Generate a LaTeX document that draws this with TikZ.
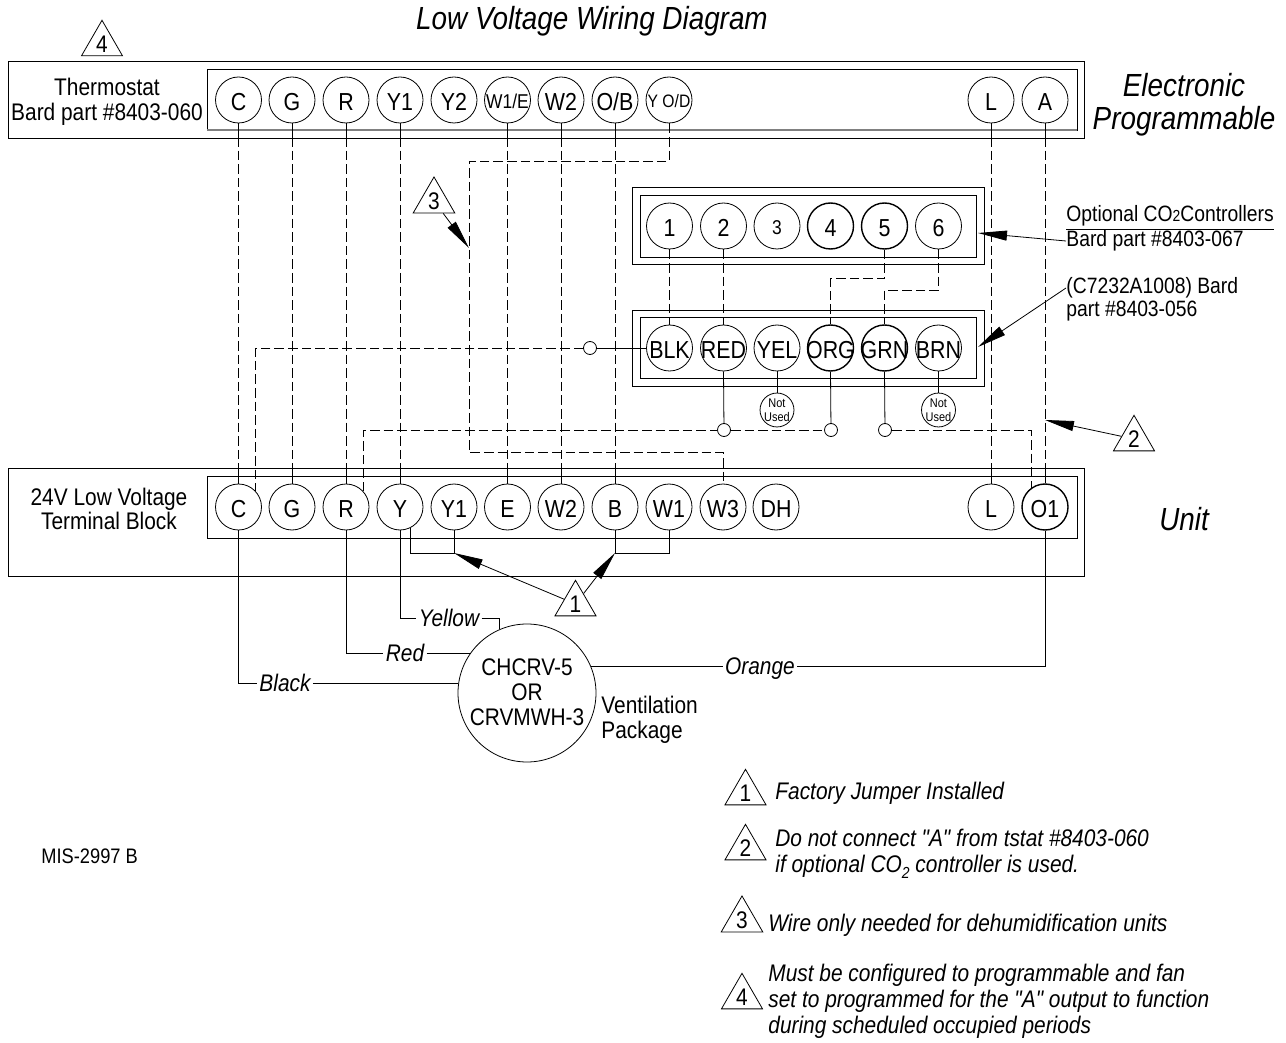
\documentclass[tikz,border=0pt]{standalone}
\usepackage{fontspec}
\setmainfont[FakeStretch=0.87,Ligatures=TeXOff]{Liberation Sans}
\usetikzlibrary{arrows.meta,shapes.geometric}
\newcommand{\clab}[1]{\makebox[0pt]{#1}}
\tikzset{
  term/.style={circle,draw,minimum size=23pt,inner sep=0pt,text height=10.1pt,text depth=0pt,font=\fontsize{12.3}{14}\selectfont},
  heavy/.style={line width=.7pt},
  flagnum/.style={regular polygon,regular polygon sides=3,draw,minimum size=23.7pt,inner sep=0pt,font=\fontsize{12}{14}\selectfont},
  tapdot/.style={circle,draw,minimum size=6.5pt,inner sep=0pt},
  notused/.style={circle,draw,minimum size=16pt,inner sep=0pt,align=center,font=\fontsize{6.3}{6.8}\selectfont},
  txt/.style={inner sep=0pt,align=center,font=\fontsize{12}{12.4}\selectfont},
  sidetxt/.style={inner sep=0pt,anchor=west,font=\fontsize{11.1}{12}\selectfont},
  big/.style={inner sep=0pt,font=\fontsize{16}{16.5}\selectfont\itshape,align=center},
  note/.style={inner sep=0pt,anchor=west,align=left,font=\fontsize{12}{13}\selectfont\itshape},
  wirelbl/.style={inner sep=1pt,text height=8.6pt,text depth=0pt,font=\fontsize{12}{14}\selectfont\itshape},
  wiredash/.style={dash pattern=on 4.8pt off 2pt},
  pointer/.style={-{Triangle[length=14.5pt,width=5pt]}}
}
\begin{document}
\begin{tikzpicture}[x=.5pt,y=-.5pt,line width=.4pt]
\useasboundingbox (0,0) rectangle (1286,1043);
%boxes
\draw (8,61) rectangle (1084,138);
\draw (207,69) rectangle (1077,130);
\draw[gray,line width=.8pt] (207,130) -- (1077,130);
\draw (8,468) rectangle (1084,576);
\draw (207,476) rectangle (1077,538);
\draw (632,187) rectangle (984,264);
\draw (640,195) rectangle (976,257);
\draw (632,310) rectangle (984,386);
\draw (640,317) rectangle (976,378);
%thermostat
\foreach \nm/\xx/\lab in {C/238.5/C,G/292/G,R/346/R,Yone/400/Y1,Ytwo/454/Y2,Wtwo/561/W2,OB/615/{O/B},L/991/L,A/1045/A}
  \node[term] (t\nm) at (\xx,100) {\clab{\lab}};
\node[term,text height=8.7pt,font=\fontsize{10}{12}\selectfont] (tWE) at (507.5,100) {\clab{W1/E}};
\node[term,text height=7.9pt,font=\fontsize{9}{11}\selectfont] (tYOD) at (669,100) {\clab{Y O/D}};
%unit
\foreach \nm/\xx/\lab in {C/238.5/C,G/292/G,R/346/R,Y/400/Y,Yone/454/Y1,E/507.5/E,Wtwo/561/W2,B/615/B,Wone/669/W1,Wthree/723/W3,DH/776/DH,L/991/L}
  \node[term] (b\nm) at (\xx,507) {\clab{\lab}};
\node[term,heavy] (bO) at (1045,507) {\clab{O1}};
%co2 controller
\foreach \nm/\xx/\lab in {1/669.5/1,2/723.5/2,6/938.5/6}
  \node[term] (co\nm) at (\xx,226) {\clab{\lab}};
\foreach \nm/\xx/\lab in {4/830.5/4,5/884.5/5}
  \node[term,heavy] (co\nm) at (\xx,226) {\clab{\lab}};
\node[term,text height=8.7pt,font=\fontsize{10}{12}\selectfont] (co3) at (777,226) {\clab{3}};
%wall sensor
\foreach \nm/\xx in {BLK/669.5,RED/723.5,YEL/777,BRN/938.5}
  \node[term] (w\nm) at (\xx,348) {\clab{\nm}};
\foreach \nm/\xx in {ORG/830.5,GRN/884.5}
  \node[term,heavy] (w\nm) at (\xx,348) {\clab{\nm}};
\node[notused] (nuA) at (777,410) {Not\\Used};
\node[notused] (nuB) at (938.5,410) {Not\\Used};
\node[tapdot] (tapBLK) at (590,348) {};
\node[tapdot] (tapRED) at (724,430) {};
\node[tapdot] (tapORG) at (831,430) {};
\node[tapdot] (tapGRN) at (885,430) {};
%long dashes, thermostat to unit
\foreach \from/\to in {C/C,G/G,R/R,Yone/Y,WE/E,Wtwo/Wtwo,OB/B,L/L,A/O}{
  \draw[wiredash] (t\from.south) -- (b\to.north);
  \draw (t\from.south) -- ++(0,16);
  \draw (b\to.north) -- ++(0,-16);
}
%short dashes
\draw[wiredash] (tYOD.south) -- ++(0,38) -- ++(-200,0) -- ++(0,291) -| (bWthree.north);
\draw[wiredash] (co1.south) -- (wBLK.north);
\draw[wiredash] (co2.south) -- (wRED.north);
\draw[wiredash] (co5.south) -- ++(0,29) -| (wORG.north);
\draw[wiredash] (co6.south) -- ++(0,41) -| (wGRN.north);
\draw[wiredash] (tapBLK) -| (bC.42);
\draw[wiredash] (bR.42) |- (tapRED);
\draw[wiredash] (tapRED) -- (tapORG);
\draw[wiredash] (tapGRN) -| (bO.125);
%solid
\draw (wBLK.west) -- (tapBLK);
\draw (wRED.south) -- (tapRED);
\draw (wORG.south) -- (tapORG);
\draw (wGRN.south) -- (tapGRN);
\draw (wYEL.south) -- (nuA);
\draw (wBRN.south) -- (nuB);
%jumpers
\coordinate (jmpA) at (454,553);
\coordinate (jmpB) at (615,553);
\draw (bY.-63) |- (jmpA) -- (bYone.south);
\draw (bB.south) -- (jmpB) -| (bWone.south);
%ventilation package
\node[circle,draw,minimum size=69pt,inner sep=0pt] (vent) at (527,693) {};
\node[txt] (ventName) at (527,692) {CHCRV-5\\OR\\CRVMWH-3};
\node[txt,anchor=west,align=left] (ventText) at (601,720) {Ventilation\\Package};
\node[wirelbl] (lblYellow) at (449,618) {Yellow};
\node[wirelbl] (lblRed) at (405,653) {Red};
\node[wirelbl] (lblBlack) at (285,683) {Black};
\node[wirelbl] (lblOrange) at (760,666) {Orange};
\draw (bY.south) |- (lblYellow.west);
\draw (lblYellow.east) -| (vent.113);
\draw (bR.south) |- (lblRed.west);
\draw (lblRed.east) -- (lblRed.east -| vent.144.8);
\draw (bC.south) |- (lblBlack.west);
\draw (lblBlack.east) -- (lblBlack.east -| vent.171.72);
\draw (lblOrange.west -| vent.22.9) -- (lblOrange.west);
\draw (lblOrange.east) -| (bO.south);
%flags
\node[flagnum] (flagTop) at (102,44) {4};
\node[flagnum] (flagOne) at (575.5,604) {1};
\node[flagnum] (flagTwo) at (1134,439) {2};
\node[flagnum] (flagThree) at (434,201) {3};
\coordinate (tipTwo) at (1045,420);
\coordinate (tipThree) at (469,248);
\coordinate (tipCO) at (978,233);
\coordinate (tipWS) at (978,347);
\draw[pointer] (flagOne) -- (jmpA);
\draw[pointer] (flagOne) -- (jmpB);
\draw[pointer] (flagTwo) -- (tipTwo);
\draw[pointer] (flagThree) -- (tipThree);
%text
\node[big] (title) at (592,21) {Low Voltage Wiring Diagram};
\node[big] (kind) at (1184,105) {Electronic\\Programmable};
\node[big] (unit) at (1184,519) {Unit};
\node[txt] (tstat) at (107,102) {Thermostat\\Bard part \#8403-060};
\node[txt] (block) at (109,509) {24V Low Voltage\\Terminal Block};
\node[txt,anchor=west,font=\fontsize{10.5}{12}\selectfont] (mis) at (41,856) {MIS-2997 B};
\node[sidetxt] (coTitle) at (1066,218) {\underline{Optional CO{\fontsize{8}{8}\selectfont 2}Controllers}};
\node[sidetxt] (coPart) at (1066,241) {Bard part \#8403-067};
\node[sidetxt] (wsTitle) at (1066,288) {(C7232A1008) Bard};
\node[sidetxt] (wsPart) at (1066,311) {part \#8403-056};
\draw[pointer] (coPart.west) -- (tipCO);
\draw[pointer] (wsTitle.west) -- (tipWS);
%legend
\node[flagnum] (keyOne) at (745.5,793) {1};
\node[flagnum] (keyTwo) at (745.5,848) {2};
\node[flagnum] (keyThree) at (742,920) {3};
\node[flagnum] (keyFour) at (742,997) {4};
\node[note] (noteOne) at (775,793) {Factory Jumper Installed};
\node[note] (noteTwo) at (775,854) {Do not connect "A" from tstat \#8403-060\\if optional CO\raisebox{-.5ex}{\fontsize{8}{8}\selectfont 2} controller is used.};
\node[note] (noteThree) at (768,925) {Wire only needed for dehumidification units};
\node[note] (noteFour) at (768,1001) {Must be configured to programmable and fan\\set to programmed for the "A" output to function\\during scheduled occupied periods};
\end{tikzpicture}
\end{document}
